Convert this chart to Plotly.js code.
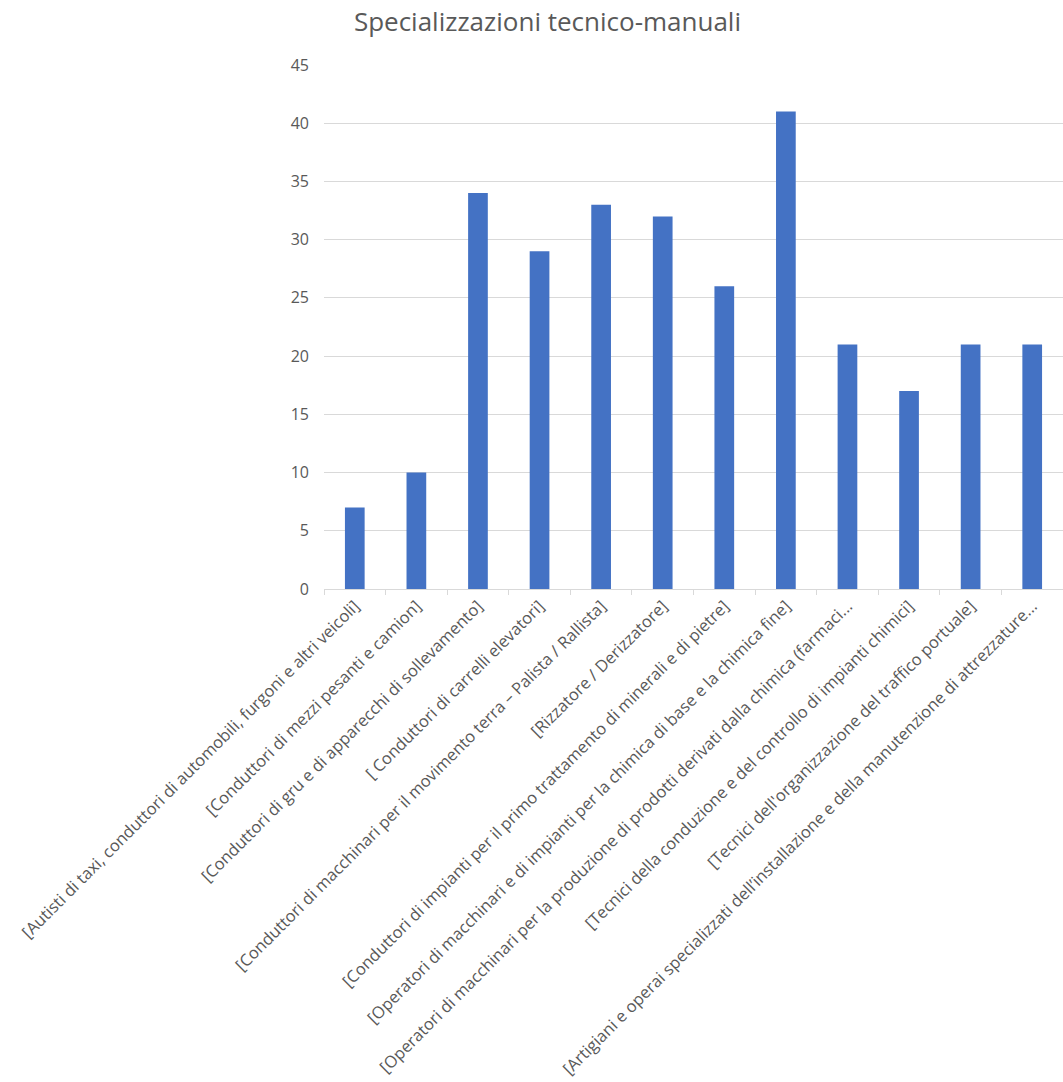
<!DOCTYPE html>
<html>
<head>
<meta charset="utf-8">
<script src="https://cdn.plot.ly/plotly-3.0.1.min.js"></script>
<style>html,body{margin:0;padding:0;background:#fff;}#chart{width:1063px;height:1082px;}</style>
</head>
<body>
<div id="chart"></div>
<script>
const categories = [
  "[Autisti di taxi, conduttori di automobili, furgoni e altri veicoli]",
  "[Conduttori di mezzi pesanti e camion]",
  "[Conduttori di gru e di apparecchi di sollevamento]",
  "[ Conduttori di carrelli elevatori]",
  "[Conduttori di macchinari per il movimento terra – Palista / Rallista]",
  "[Rizzatore / Derizzatore]",
  "[Conduttori di impianti per il primo trattamento di minerali e di pietre]",
  "[Operatori di macchinari e di impianti per la chimica di base e la chimica fine]",
  "[Operatori di macchinari per la produzione di prodotti derivati dalla chimica (farmaci...",
  "[Tecnici della conduzione e del controllo di impianti chimici]",
  "[Tecnici dell'organizzazione del traffico portuale]",
  "[Artigiani e operai specializzati dell’installazione e della manutenzione di attrezzature..."
];
const values = [7, 10, 34, 29, 33, 32, 26, 41, 21, 17, 21, 21];
const yTicks = [0, 5, 10, 15, 20, 25, 30, 35, 40, 45];
const titleText = "Specializzazioni tecnico-manuali";

const fontFam = "'Open Sans', 'Noto Sans', sans-serif";
Plotly.newPlot('chart', [{
  type: 'bar',
  x: categories,
  y: values,
  marker: {color: '#4472C4'},
  hoverinfo: 'x+y'
}], {
  width: 1063, height: 1082,
  margin: {l: 324, r: 0, t: 65, b: 493},
  bargap: 0.68,
  paper_bgcolor: '#fff', plot_bgcolor: '#fff',
  title: {text: titleText, x: 0.515, xanchor: 'center', y: 0.988, yanchor: 'top', font: {family: fontFam, size: 26, color: '#595959'}},
  font: {family: fontFam, color: '#595959'},
  xaxis: {
    tickangle: -45,
    tickfont: {size: 16.5, color: '#595959', family: fontFam},
    showline: true, linecolor: '#d9d9d9', linewidth: 1,
    ticks: 'outside', tickson: 'boundaries', ticklen: 5, tickcolor: '#d9d9d9',
    showgrid: false, automargin: false
  },
  yaxis: {
    range: [0, 45],
    tickvals: yTicks,
    tickfont: {size: 16, color: '#595959', family: fontFam},
    gridcolor: '#d9d9d9', gridwidth: 1,
    zeroline: false, showline: false,
    ticks: '', ticklabelstandoff: 14
  },
  showlegend: false
}, {displayModeBar: false, staticPlot: true});
</script>
</body>
</html>
